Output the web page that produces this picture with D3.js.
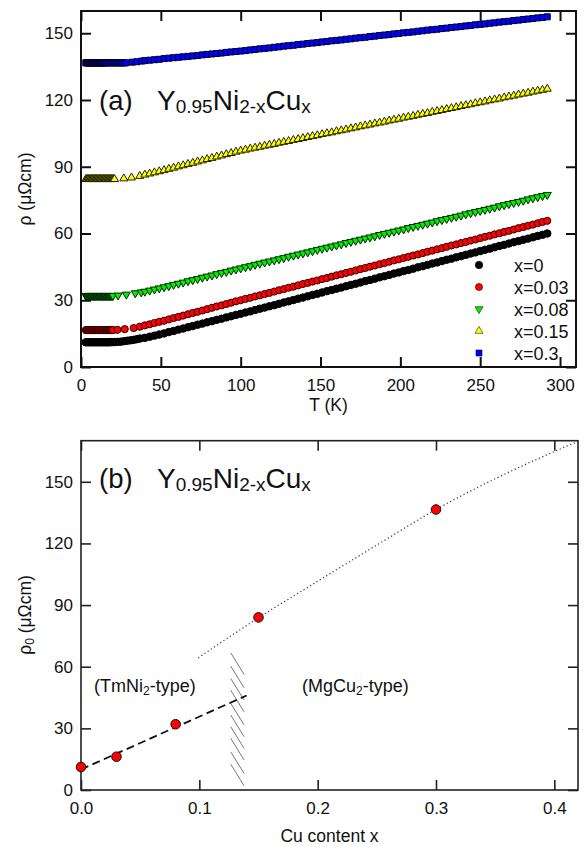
<!DOCTYPE html>
<html>
<head>
<meta charset="utf-8">
<script src="https://cdn.jsdelivr.net/npm/d3@7"></script>
<style>
  body { margin: 0; background: #fff; }
  svg { display: block; }
  text { font-family: "Liberation Sans", Arial, Helvetica, sans-serif; fill: #111; }
</style>
</head>
<body>
<svg id="chart" width="584" height="847"></svg>
<script>
// ---------------- Panel (a): rho(T) for Y0.95Ni2-xCux ----------------
const seriesLabels = ["x=0", "x=0.03", "x=0.08", "x=0.15", "x=0.3"];

// shared temperature grid (K) for the main part of each curve
const tempGrid = [40,43,46,49,52,55,58,61,64,67,70,73,76,79,82,85,88,91,94,97,100,
  103,106,109,112,115,118,121,124,127,130,133,136,139,142,145,148,151,154,157,160,
  163,166,169,172,175,178,181,184,187,190,193,196,199,202,205,208,211,214,217,220,
  223,226,229,232,235,238,241,244,247,250,253,256,259,262,265,268,271,274,277,280,
  283,286,289,292];

// low-temperature points (K, µΩcm)
const lowT_x0    = [3,4,5,6,7,8,9,10,11,12,13,14,15,16,17,18,19,20,21,23,25,27,29,31,33,35,37];
const lowRho_x0  = [11.1,11.1,11.1,11.1,11.1,11.1,11.1,11.1,11.1,11.1,11.1,11.1,11.1,11.1,11.1,11.1,11.2,11.2,11.2,11.3,11.4,11.6,11.8,12.0,12.2,12.5,12.8];
const lowT_x003  = [3,3.5,4,4.5,5,5.5,6,6.5,7,7.5,8,8.5,9,9.5,10,10.5,11,11.5,12,12.5,13,13.5,14,14.5,15,15.5,16,16.5,17,17.5,18,18.5,19,19.5,20,22.8,27.4,33.0,36.8];
const lowRho_x003= [16.6,16.6,16.6,16.6,16.6,16.6,16.6,16.6,16.6,16.6,16.6,16.6,16.6,16.6,16.6,16.6,16.6,16.6,16.6,16.6,16.6,16.6,16.6,16.6,16.6,16.6,16.6,16.6,16.6,16.6,16.6,16.6,16.6,16.6,16.6,16.7,17.0,17.5,18.1];
const lowT_x008  = [3,3.5,4,4.5,5,5.5,6,6.5,7,7.5,8,8.5,9,9.5,10,10.5,11,11.5,12,12.5,13,13.5,14,14.5,15,15.5,16,16.5,17,17.5,18,18.5,19,19.5,20,23.2,28.4,34.0,37.7];
const lowRho_x008= [32.0,32.0,32.0,32.0,32.0,32.0,32.0,32.0,32.0,32.0,32.0,32.0,32.0,32.0,32.0,32.0,32.0,32.0,32.0,32.0,32.0,32.0,32.0,32.0,32.0,32.0,32.0,32.0,32.0,32.0,32.0,32.0,32.0,32.0,32.0,32.2,32.6,33.2,33.6];
const lowT_x015  = [3,3.5,4,4.5,5,5.5,6,6.5,7,7.5,8,8.5,9,9.5,10,10.5,11,11.5,12,12.5,13,13.5,14,14.5,15,15.5,16,16.5,17,17.5,18,18.5,19,19.5,20,20.5,21,26.8,31.6,36.8];
const lowRho_x015= [84.4,84.4,84.4,84.4,84.4,84.4,84.4,84.4,84.4,84.4,84.4,84.4,84.4,84.4,84.4,84.4,84.4,84.4,84.4,84.4,84.4,84.4,84.4,84.4,84.4,84.4,84.4,84.4,84.4,84.4,84.4,84.4,84.4,84.4,84.4,84.4,84.4,84.7,85.1,85.8];
const lowT_x03   = [3,3.5,4,4.5,5,5.5,6,6.5,7,7.5,8,8.5,9,9.5,10,10.5,11,11.5,12,12.5,13,13.5,14,14.5,15,16,17,18,19,20,21,22,23,24,25,26,27,28,32,35,38];
const lowRho_x03 = [136.7,136.7,136.7,136.7,136.7,136.7,136.7,136.7,136.7,136.7,136.7,136.7,136.7,136.7,136.7,136.7,136.7,136.7,136.7,136.7,136.7,136.7,136.7,136.7,136.7,136.7,136.7,136.7,136.7,136.7,136.7,136.7,136.7,136.7,136.7,136.7,136.7,136.7,137.0,137.2,137.5];

// resistivity on tempGrid (µΩcm)
const rho_x0 = [13.1,13.6,14.1,14.6,15.1,15.7,16.2,16.8,17.3,17.9,18.4,19.0,19.5,20.1,20.6,21.2,21.7,22.3,22.8,23.4,23.9,
  24.5,25.0,25.6,26.2,26.7,27.3,27.8,28.4,29.0,29.5,30.1,30.7,31.2,31.8,32.4,32.9,33.5,34.1,34.6,35.2,
  35.7,36.3,36.9,37.4,38.0,38.6,39.1,39.7,40.3,40.8,41.4,42.0,42.5,43.1,43.6,44.2,44.8,45.3,45.9,46.5,
  47.0,47.6,48.2,48.7,49.3,49.8,50.4,51.0,51.5,52.1,52.7,53.2,53.8,54.4,54.9,55.5,56.1,56.6,57.2,57.7,
  58.3,58.9,59.4,60.0];
const rho_x003 = [18.7,19.2,19.8,20.3,20.8,21.4,22.0,22.5,23.1,23.7,24.3,24.8,25.4,26.0,26.6,27.2,27.7,28.3,28.9,29.5,30.0,
  30.6,31.1,31.7,32.2,32.8,33.3,33.9,34.5,35.0,35.6,36.1,36.7,37.3,37.8,38.4,38.9,39.5,40.0,40.6,41.2,
  41.7,42.3,42.8,43.4,44.0,44.5,45.1,45.6,46.2,46.7,47.3,47.9,48.4,49.0,49.5,50.1,50.6,51.2,51.8,52.3,
  52.9,53.4,54.0,54.6,55.1,55.7,56.2,56.8,57.3,57.9,58.5,59.0,59.6,60.1,60.7,61.2,61.8,62.4,62.9,63.5,
  64.0,64.6,65.2,65.7];
const rho_x008 = [33.9,34.4,34.9,35.4,35.9,36.4,37.0,37.5,38.0,38.6,39.1,39.6,40.2,40.7,41.2,41.8,42.3,42.8,43.4,43.9,44.4,
  44.9,45.4,46.0,46.5,47.0,47.5,48.0,48.5,49.0,49.6,50.1,50.6,51.1,51.6,52.1,52.7,53.2,53.7,54.2,54.7,
  55.2,55.8,56.3,56.8,57.3,57.8,58.3,58.8,59.4,59.9,60.4,60.9,61.4,61.9,62.5,63.0,63.5,64.0,64.5,65.0,
  65.6,66.1,66.6,67.1,67.6,68.1,68.7,69.2,69.7,70.2,70.7,71.2,71.7,72.3,72.8,73.3,73.8,74.3,74.8,75.4,
  75.9,76.4,76.9,77.4];
const rho_x015 = [86.4,86.9,87.4,87.9,88.4,89.0,89.5,90.1,90.6,91.2,91.7,92.3,92.8,93.4,93.9,94.5,95.0,95.6,96.1,96.7,97.2,
  97.6,98.1,98.5,98.9,99.4,99.8,100.2,100.7,101.1,101.5,102.0,102.4,102.8,103.3,103.7,104.1,104.6,105.0,105.4,105.9,
  106.3,106.7,107.2,107.6,108.1,108.5,108.9,109.4,109.8,110.2,110.7,111.1,111.5,112.0,112.4,112.8,113.3,113.7,114.1,114.6,
  115.0,115.4,115.9,116.3,116.7,117.2,117.6,118.0,118.5,118.9,119.3,119.8,120.2,120.6,121.1,121.5,121.9,122.4,122.8,123.2,
  123.7,124.1,124.5,125.0];
const rho_x03 = [137.7,137.9,138.1,138.3,138.6,138.8,139.0,139.2,139.4,139.6,139.8,140.0,140.3,140.5,140.7,140.9,141.1,141.4,141.6,141.8,142.0,
  142.2,142.5,142.7,143.0,143.2,143.4,143.7,143.9,144.2,144.4,144.6,144.9,145.1,145.4,145.6,145.8,146.1,146.3,146.6,146.8,
  147.0,147.3,147.5,147.8,148.0,148.2,148.5,148.7,149.0,149.2,149.4,149.7,149.9,150.2,150.4,150.6,150.9,151.1,151.4,151.6,
  151.8,152.1,152.3,152.6,152.8,153.0,153.3,153.5,153.8,154.0,154.2,154.5,154.7,155.0,155.2,155.4,155.7,155.9,156.2,156.4,
  156.6,156.9,157.1,157.4];

const tempTicks = [0, 50, 100, 150, 200, 250, 300];
const rhoTicksA = [0, 30, 60, 90, 120, 150];

// ---------------- Panel (b): residual resistivity vs Cu content ----------------
const cuContent  = [0, 0.03, 0.08, 0.15, 0.3];
const rho0Values = [11.2, 16.2, 32.0, 84.0, 136.5];
const fitTmNi = [[0, 10.0], [0.14, 46.0]];
const fitMgCu = [[0.099, 64.3], [0.15, 83.8], [0.2, 101.6], [0.25, 119.2], [0.3, 136.5], [0.35, 151.5], [0.42, 169.7]];
const boundaryHatchRho = [66.8, 60.3, 54.3, 48.6, 42.2, 36.5, 30.8, 25.2, 18.6, 12.6];
const cuTicks = [0, 0.1, 0.2, 0.3, 0.4];
const rhoTicksB = [0, 30, 60, 90, 120, 150];

// ---------------- drawing ----------------
const svg = d3.select("#chart");
const FONT = '"Liberation Sans", Arial, Helvetica, sans-serif';

function drawFrame(x, y, xTicks, yTicks, xFmt, sw, col) {
  const [x0, x1] = x.range(), [y0, y1] = y.range();
  const g = svg.append("g");
  const len = 10;
  g.append("g").attr("transform", `translate(0,${y0})`)
    .call(d3.axisBottom(x).tickValues(xTicks).tickFormat(xFmt)
      .tickSizeInner(-len).tickSizeOuter(0).tickPadding(11.5));
  g.append("g").attr("transform", `translate(0,${y1})`)
    .call(d3.axisTop(x).tickValues(xTicks).tickFormat("")
      .tickSizeInner(-len).tickSizeOuter(0));
  g.append("g").attr("transform", `translate(${x0},0)`)
    .call(d3.axisLeft(y).tickValues(yTicks).tickFormat(d3.format("d"))
      .tickSizeInner(-len).tickSizeOuter(0).tickPadding(8));
  g.append("g").attr("transform", `translate(${x1},0)`)
    .call(d3.axisRight(y).tickValues(yTicks).tickFormat("")
      .tickSizeInner(-len).tickSizeOuter(0));
  g.selectAll(".domain").remove();
  g.selectAll(".tick line").attr("stroke", col).attr("stroke-width", sw);
  g.selectAll(".tick text").attr("font-size", 17).attr("font-family", FONT).attr("fill", "#111");
  g.append("rect")
    .attr("x", x0).attr("y", y1).attr("width", x1 - x0).attr("height", y0 - y1)
    .attr("fill", "none").attr("stroke", col).attr("stroke-width", sw);
}

// ---- panel (a)
const xA = d3.scaleLinear().domain([0, 310]).range([81, 576]);
const yA = d3.scaleLinear().domain([0, 160]).range([367, 11]);

const styles = [
  { sym: d3.symbolCircle,   size: 44, rot: 0,   fill: "#000000", stroke: "#000000" },
  { sym: d3.symbolCircle,   size: 40, rot: 0,   fill: "#ff0000", stroke: "#300000" },
  { sym: d3.symbolTriangle, size: 28, rot: 180, fill: "#00ee00", stroke: "#002200" },
  { sym: d3.symbolTriangle, size: 28, rot: 0,   fill: "#ffff00", stroke: "#222200" },
  { sym: d3.symbolSquare,   size: 36, rot: 0,   fill: "#0000ff", stroke: "#000022" }
];

const lowTs   = [lowT_x0, lowT_x003, lowT_x008, lowT_x015, lowT_x03];
const lowRhos = [lowRho_x0, lowRho_x003, lowRho_x008, lowRho_x015, lowRho_x03];
const mainRhos = [rho_x0, rho_x003, rho_x008, rho_x015, rho_x03];

const series = seriesLabels.map((label, k) => ({
  label,
  style: styles[k],
  points: lowTs[k].map((t, i) => [t, lowRhos[k][i]])
    .concat(tempGrid.map((t, i) => [t, mainRhos[k][i]]))
}));

series.forEach(s => {
  const sym = d3.symbol().type(s.style.sym).size(s.style.size);
  svg.append("g").selectAll("path").data(s.points).join("path")
    .attr("d", sym)
    .attr("transform", d => `translate(${xA(d[0])},${yA(d[1])})` + (s.style.rot ? ` rotate(${s.style.rot})` : ""))
    .attr("fill", s.style.fill)
    .attr("stroke", s.style.stroke)
    .attr("stroke-width", 1);
});

drawFrame(xA, yA, tempTicks, rhoTicksA, d3.format("d"), 2, "#111");

// legend
const legend = svg.append("g");
series.forEach((s, i) => {
  const ly = 265 + i * 22;
  const sym = d3.symbol().type(s.style.sym).size(s.style.size);
  legend.append("path").attr("d", sym)
    .attr("transform", `translate(479,${ly})` + (s.style.rot ? ` rotate(${s.style.rot})` : ""))
    .attr("fill", s.style.fill).attr("stroke", s.style.stroke).attr("stroke-width", 0.6);
  legend.append("text").attr("x", 514).attr("y", ly + 6.5)
    .attr("font-size", 18).text(s.label);
});

// compound title
function title(tag, x, y) {
  svg.append("text").attr("x", 99).attr("y", y).attr("font-size", 27.5).text(tag);
  const t = svg.append("text").attr("x", x).attr("y", y).attr("font-size", 28);
  t.append("tspan").text("Y");
  t.append("tspan").attr("font-size", 19).attr("dy", 3).text("0.95");
  t.append("tspan").attr("dy", -3).text("Ni");
  t.append("tspan").attr("font-size", 19).attr("dy", 3).text("2-x");
  t.append("tspan").attr("dy", -3).text("Cu");
  t.append("tspan").attr("font-size", 19).attr("dy", 3).text("x");
}
title("(a)", 157, 110);

svg.append("text").attr("transform", "translate(31,189) rotate(-90)")
  .attr("text-anchor", "middle").attr("font-size", 17.5).text("ρ (μΩcm)");
svg.append("text").attr("x", (81 + 576) / 2).attr("y", 411)
  .attr("text-anchor", "middle").attr("font-size", 17.5).text("T (K)");

// ---- panel (b)
const xB = d3.scaleLinear().domain([0, 0.42]).range([81, 578]);
const yB = d3.scaleLinear().domain([0, 170]).range([790, 440.7]);

// phase-boundary hatching
const hatchDx = [0.1265, 0.1378], hatchDrop = 10.55;
svg.append("g").selectAll("line").data(boundaryHatchRho).join("line")
  .attr("x1", xB(hatchDx[0])).attr("y1", d => yB(d))
  .attr("x2", xB(hatchDx[1])).attr("y2", d => yB(d - hatchDrop))
  .attr("stroke", "#777").attr("stroke-width", 1);

const lineGen = d3.line().x(d => xB(d[0])).y(d => yB(d[1]));
svg.append("path").datum(fitTmNi).attr("d", lineGen)
  .attr("fill", "none").attr("stroke", "#111").attr("stroke-width", 1.8)
  .attr("stroke-dasharray", "8,4.5");
svg.append("path").datum(fitMgCu).attr("d", lineGen.curve(d3.curveMonotoneX))
  .attr("fill", "none").attr("stroke", "#333").attr("stroke-width", 1.2)
  .attr("stroke-dasharray", "1.2,2.6");

drawFrame(xB, yB, cuTicks, rhoTicksB, d3.format(".1f"), 1.6, "#222");

svg.append("g").selectAll("circle").data(cuContent).join("circle")
  .attr("cx", d => xB(d)).attr("cy", (d, i) => yB(rho0Values[i])).attr("r", 4.8)
  .attr("fill", "#ff0000").attr("stroke", "#111").attr("stroke-width", 1);

title("(b)", 157, 488);

function typeLabel(x, y, main) {
  const t = svg.append("text").attr("x", x).attr("y", y).attr("font-size", 18);
  t.append("tspan").text(main);
  t.append("tspan").attr("font-size", 12).attr("dy", 3).text("2");
  t.append("tspan").attr("dy", -3).text("-type)");
}
typeLabel(94, 692, "(TmNi");
typeLabel(302, 692, "(MgCu");

const yl = svg.append("text").attr("transform", "translate(31,615) rotate(-90)")
  .attr("text-anchor", "middle").attr("font-size", 17.5);
yl.append("tspan").text("ρ");
yl.append("tspan").attr("font-size", 12).attr("dy", 3).text("0");
yl.append("tspan").attr("dy", -3).text(" (μΩcm)");

svg.append("text").attr("x", (81 + 578) / 2).attr("y", 842)
  .attr("text-anchor", "middle").attr("font-size", 17.5).text("Cu content x");
</script>
</body>
</html>
